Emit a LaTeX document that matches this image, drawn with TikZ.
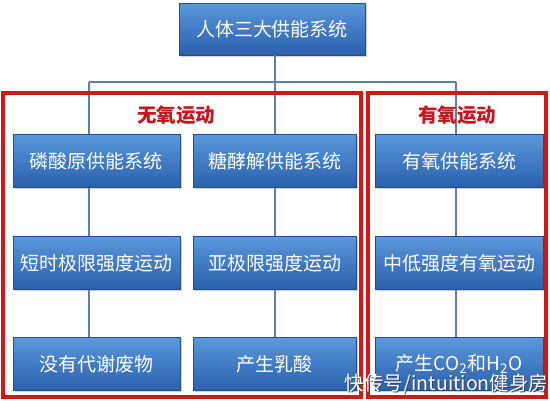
\documentclass[tikz,border=0pt]{standalone}
\usepackage{fontspec}
\setmainfont{Noto Sans CJK SC}
\usetikzlibrary{shadows}
\definecolor{boxtop}{HTML}{5A98DC}
\definecolor{boxbot}{HTML}{2A5FAC}
\definecolor{lineblue}{HTML}{5E7FAE}
\definecolor{frame}{HTML}{D01818}
\definecolor{labelred}{HTML}{C8141C}
\tikzset{
  sysbox/.style={draw=boxbot!80!black, line width=0.4pt, top color=boxtop, bottom color=boxbot,
    text=white, font=\fontsize{19}{22}\selectfont, inner sep=0pt, minimum height=53pt,
    drop shadow={opacity=0.35, shadow xshift=1.5pt, shadow yshift=-1.5pt}},
  conn/.style={draw=lineblue, line width=1.4pt},
  redframe/.style={draw=frame, line width=3.2pt},
  grouplabel/.style={text=labelred, font=\fontsize{19.5}{22}\selectfont\bfseries, inner sep=0pt},
  wm/.style={font=\fontsize{19.5}{22}\selectfont, inner sep=0pt, anchor=east}
}
\begin{document}
\begin{tikzpicture}[x=1pt,y=-1pt]
\useasboundingbox (0,0) rectangle (550,400);
\fill[white] (0,0) rectangle (550,400);

% nodes
\node[sysbox, minimum width=186pt, minimum height=52pt] (top) at (272,29) {人体三大供能系统};
\node[sysbox, minimum width=167pt] (a1) at (96.5,161) {磷酸原供能系统};
\node[sysbox, minimum width=163pt] (b1) at (274.5,161) {糖酵解供能系统};
\node[sysbox, minimum width=168pt] (c1) at (459,161) {有氧供能系统};
\node[sysbox, minimum width=167pt] (a2) at (96.5,263) {短时极限强度运动};
\node[sysbox, minimum width=163pt] (b2) at (274.5,263) {亚极限强度运动};
\node[sysbox, minimum width=168pt] (c2) at (459,263) {中低强度有氧运动};
\node[sysbox, minimum width=167pt] (a3) at (96.5,364) {没有代谢废物};
\node[sysbox, minimum width=163pt] (b3) at (274.5,364) {产生乳酸};
\node[sysbox, minimum width=168pt] (c3) at (459,364) {产生CO\textsubscript{2}和H\textsubscript{2}O};

% connector coordinates
\coordinate (busmid) at (275,82);
\coordinate (busl) at (89,82);
\coordinate (busr) at (456,82);
\coordinate (xa) at (89,0);
\coordinate (xb) at (275,0);
\coordinate (xc) at (456,0);

% connectors
\path[conn] (top.south -| busmid) -- (busmid);
\path[conn] (busl) -- (busr);
\path[conn] (busl) -- (a1.north -| xa);
\path[conn] (busmid) -- (b1.north -| xb);
\path[conn] (busr) -- (c1.north -| xc);
\path[conn] (a1.south -| xa) -- (a2.north -| xa);
\path[conn] (b1.south -| xb) -- (b2.north -| xb);
\path[conn] (c1.south -| xc) -- (c2.north -| xc);
\path[conn] (a2.south -| xa) -- (a3.north -| xa);
\path[conn] (b2.south -| xb) -- (b3.north -| xb);
\path[conn] (c2.south -| xc) -- (c3.north -| xc);

% red group frames
\node[redframe, minimum width=358pt, minimum height=304pt, inner sep=0pt] (leftframe) at (182,245) {};
\node[redframe, minimum width=178pt, minimum height=304pt, inner sep=0pt] (rightframe) at (457,245) {};

\node[grouplabel] (lab1) at (176,115) {无氧运动};
\node[grouplabel] (lab2) at (457,115) {有氧运动};

% watermark
\node[wm, text=black!75, opacity=0.85] (wmshadow) at (549.5,385.5) {快传号/intuition健身房};
\node[wm, text=white] (wmark) at (548.5,384.5) {快传号/intuition健身房};
\end{tikzpicture}
\end{document}
